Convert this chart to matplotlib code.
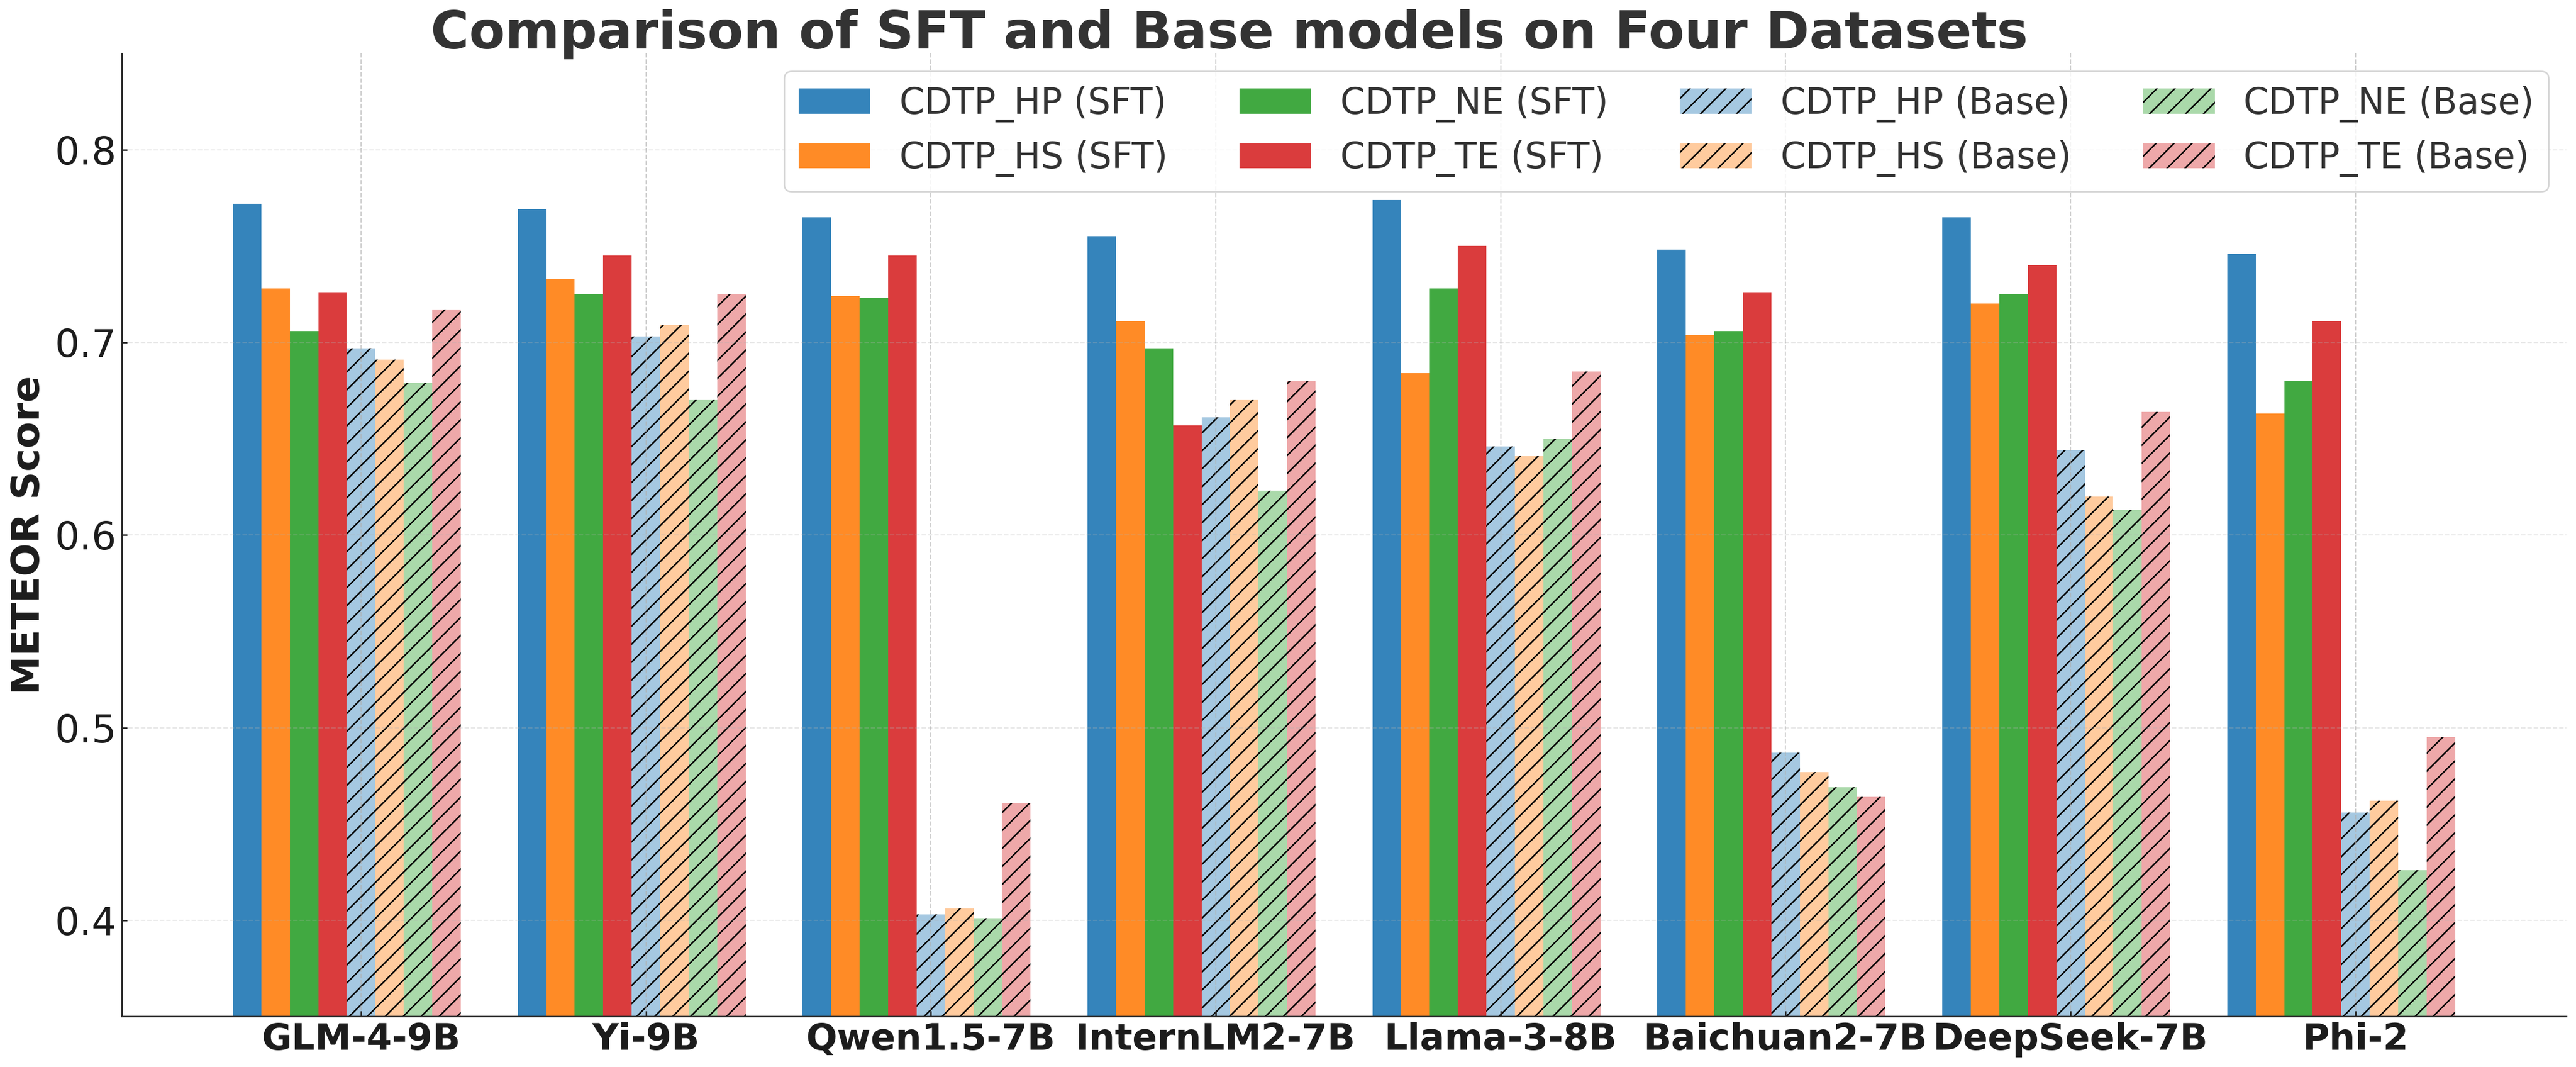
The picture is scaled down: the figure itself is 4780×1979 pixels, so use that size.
import numpy as np
import matplotlib
matplotlib.use('Agg')
import matplotlib.pyplot as plt
from matplotlib.colors import to_rgba

models = ['GLM-4-9B', 'Yi-9B', 'Qwen1.5-7B', 'InternLM2-7B', 'Llama-3-8B',
          'Baichuan2-7B', 'DeepSeek-7B', 'Phi-2']

# METEOR scores, fine-tuned models
hp_sft = [0.772, 0.769, 0.765, 0.755, 0.774, 0.748, 0.765, 0.746]
hs_sft = [0.728, 0.733, 0.724, 0.711, 0.684, 0.704, 0.720, 0.663]
ne_sft = [0.706, 0.725, 0.723, 0.697, 0.728, 0.706, 0.725, 0.680]
te_sft = [0.726, 0.745, 0.745, 0.657, 0.750, 0.726, 0.740, 0.711]

# METEOR scores, base models
hp_base = [0.697, 0.703, 0.403, 0.661, 0.646, 0.487, 0.644, 0.456]
hs_base = [0.691, 0.709, 0.406, 0.670, 0.641, 0.477, 0.620, 0.462]
ne_base = [0.679, 0.670, 0.401, 0.623, 0.650, 0.469, 0.613, 0.426]
te_base = [0.717, 0.725, 0.461, 0.680, 0.685, 0.464, 0.664, 0.495]

datasets = ['CDTP_HP', 'CDTP_HS', 'CDTP_NE', 'CDTP_TE']
yticks = [0.4, 0.5, 0.6, 0.7, 0.8]

sft = [hp_sft, hs_sft, ne_sft, te_sft]
base = [hp_base, hs_base, ne_base, te_base]
colors = ['#1f77b4', '#ff7f0e', '#2ca02c', '#d62728']

fig = plt.figure(figsize=(23.9, 9.895), dpi=200)
ax = fig.add_axes([0.04722, 0.04725, 0.94902, 0.90273])

x = np.arange(len(models))
width = 0.1

# SFT bars first, then base bars with hatch
for i, (name, vals) in enumerate(zip(datasets, sft)):
    ax.bar(x + (i - 4) * width, vals, width, label=f'{name} (SFT)',
           color=to_rgba(colors[i], 0.9), linewidth=0)
for i, (name, vals) in enumerate(zip(datasets, base)):
    ax.bar(x + i * width, vals, width, label=f'{name} (Base)',
           facecolor=to_rgba(colors[i], 0.4), edgecolor='black',
           linewidth=0, hatch='//')

ax.set_ylim(0.35, 0.85)
ax.set_yticks(yticks)
ax.set_xticks(x)
ax.set_xticklabels(models, fontsize=24.5, fontweight='bold', color='#1c1c1c')
ax.tick_params(axis='y', labelsize=26, colors='#1c1c1c')
ax.tick_params(direction='in', length=3.5, width=1, color='#262626')

for side in ['top', 'right']:
    ax.spines[side].set_visible(False)
for side in ['left', 'bottom']:
    ax.spines[side].set_color('#262626')
    ax.spines[side].set_linewidth(1.0)

ax.grid(axis='y', linestyle='--', color='#b0b0b0', alpha=0.3, linewidth=0.8)
ax.grid(axis='x', linestyle='--', color='#b0b0b0', alpha=0.6, linewidth=0.8)

fig.text(73 / 4780, 1 - 992 / 1979, 'METEOR Score', rotation=90,
         rotation_mode='anchor', ha='center', va='baseline',
         fontsize=26, fontweight='bold', color='#1c1c1c')

fig.text(0.4772, 1 - 90 / 1979, 'Comparison of SFT and Base models on Four Datasets',
         ha='center', va='baseline', fontsize=35, fontweight='bold', color='#333333')

leg = ax.legend(ncol=4, loc='upper right', fontsize=24)
for t in leg.get_texts():
    t.set_color('#333333')

fig.savefig('out.png', dpi=200)
